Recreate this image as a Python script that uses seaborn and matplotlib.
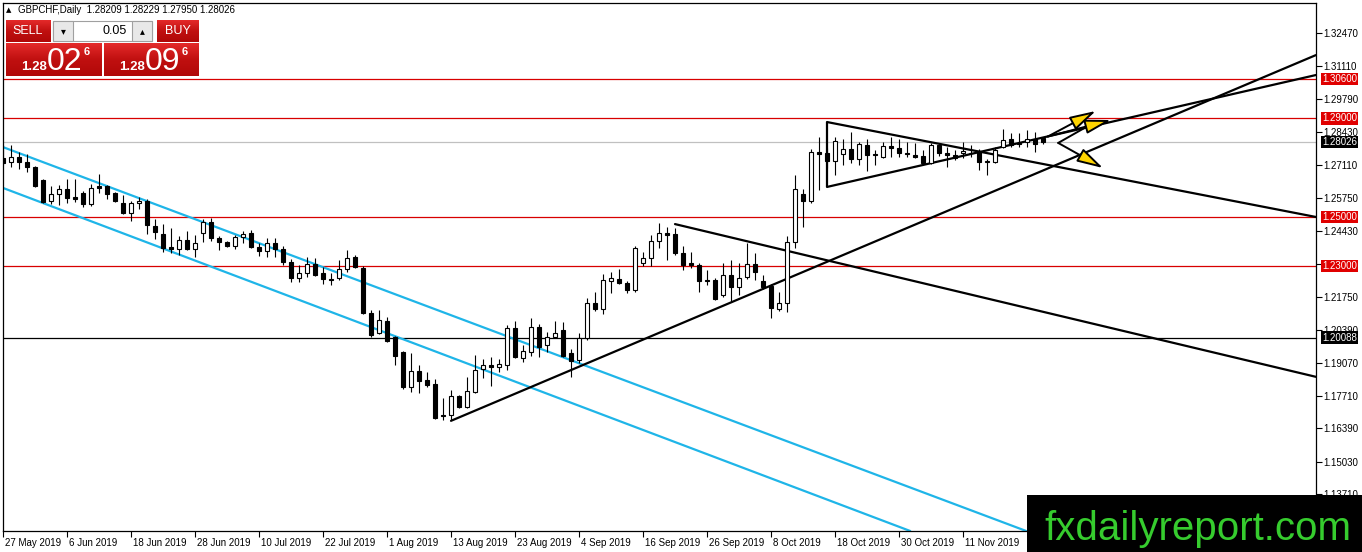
import numpy as np
import pandas as pd
import matplotlib
matplotlib.use("Agg")
import matplotlib.pyplot as plt
import matplotlib.transforms as mtrans
from matplotlib.patches import Rectangle
from matplotlib.colors import LinearSegmentedColormap
import seaborn as sns

sns.set_theme(style="white")
plt.rcParams['font.family'] = ['Liberation Sans', 'DejaVu Sans']

# ---------------- data (GBPCHF daily) ----------------
opens = [
    1.2739, 1.2722, 1.2743, 1.2722, 1.2702, 1.2649, 1.2564, 1.2592, 1.2613, 1.2580,
    1.2597, 1.2552, 1.2625, 1.2625, 1.2597, 1.2556, 1.2515, 1.2556, 1.2564, 1.2462,
    1.2430, 1.2377, 1.2369, 1.2405, 1.2369, 1.2434, 1.2479, 1.2414, 1.2397, 1.2381,
    1.2418, 1.2434, 1.2377, 1.2361, 1.2393, 1.2369, 1.2316, 1.2251, 1.2271, 1.2308,
    1.2271, 1.2247, 1.2251, 1.2288, 1.2336, 1.2292, 1.2109, 1.2027, 1.2076, 1.2011,
    1.1950, 1.1808, 1.1873, 1.1836, 1.1820, 1.1694, 1.1694, 1.1771, 1.1727, 1.1788,
    1.1881, 1.1897, 1.1889, 1.1897, 1.2048, 1.1926, 1.1950, 1.2052, 1.1979, 1.2011,
    1.2040, 1.1946, 1.1918, 1.2007, 1.2149, 1.2125, 1.2239, 1.2247, 1.2231, 1.2202,
    1.2312, 1.2332, 1.2401, 1.2434, 1.2430, 1.2353, 1.2312, 1.2304, 1.2243, 1.2243,
    1.2182, 1.2263, 1.2214, 1.2255, 1.2308, 1.2239, 1.2218, 1.2125, 1.2149, 1.2397,
    1.2592, 1.2564, 1.2763, 1.2759, 1.2727, 1.2755, 1.2775, 1.2735, 1.2792, 1.2755,
    1.2743, 1.2788, 1.2779, 1.2759, 1.2751, 1.2747, 1.2718, 1.2792, 1.2759, 1.2751,
    1.2759, 1.2759, 1.2763, 1.2722, 1.2722, 1.2783, 1.2816, 1.2800, 1.2804, 1.2816,
    1.28209]
highs = [
    1.2792, 1.2792, 1.2763, 1.2755, 1.2706, 1.2653, 1.2625, 1.2629, 1.2653, 1.2653,
    1.2605, 1.2633, 1.2674, 1.2629, 1.2601, 1.2588, 1.2564, 1.2580, 1.2572, 1.2491,
    1.2471, 1.2454, 1.2422, 1.2442, 1.2426, 1.2491, 1.2495, 1.2422, 1.2401, 1.2426,
    1.2442, 1.2446, 1.2393, 1.2414, 1.2414, 1.2381, 1.2328, 1.2304, 1.2336, 1.2332,
    1.2296, 1.2271, 1.2324, 1.2365, 1.2345, 1.2300, 1.2121, 1.2121, 1.2092, 1.2015,
    1.1954, 1.1946, 1.1897, 1.1869, 1.1840, 1.1763, 1.1796, 1.1775, 1.1849, 1.1938,
    1.1922, 1.1930, 1.1922, 1.2060, 1.2076, 1.1979, 1.2088, 1.2064, 1.2031, 1.2076,
    1.2072, 1.1962, 1.2027, 1.2170, 1.2194, 1.2267, 1.2275, 1.2288, 1.2239, 1.2381,
    1.2357, 1.2426, 1.2475, 1.2458, 1.2454, 1.2381, 1.2357, 1.2312, 1.2283, 1.2251,
    1.2312, 1.2324, 1.2312, 1.2393, 1.2353, 1.2263, 1.2227, 1.2194, 1.2421, 1.2670,
    1.2613, 1.2775, 1.2824, 1.2779, 1.2824, 1.2816, 1.2844, 1.2804, 1.2816, 1.2771,
    1.2804, 1.2824, 1.2816, 1.2804, 1.2800, 1.2771, 1.2800, 1.2800, 1.2784, 1.2771,
    1.2804, 1.2792, 1.2775, 1.2735, 1.2783, 1.2857, 1.2840, 1.2840, 1.2853, 1.2844,
    1.28229]
lows = [
    1.2710, 1.2702, 1.2694, 1.2682, 1.2621, 1.2556, 1.2552, 1.2548, 1.2556, 1.2560,
    1.2540, 1.2544, 1.2597, 1.2572, 1.2560, 1.2511, 1.2483, 1.2531, 1.2430, 1.2410,
    1.2357, 1.2353, 1.2345, 1.2365, 1.2336, 1.2397, 1.2401, 1.2365, 1.2377, 1.2369,
    1.2393, 1.2373, 1.2340, 1.2336, 1.2336, 1.2304, 1.2235, 1.2235, 1.2255, 1.2259,
    1.2227, 1.2223, 1.2243, 1.2275, 1.2292, 1.2105, 1.2011, 1.2023, 1.1991, 1.1897,
    1.1800, 1.1788, 1.1784, 1.1808, 1.1678, 1.1674, 1.1674, 1.1723, 1.1723, 1.1784,
    1.1845, 1.1812, 1.1869, 1.1877, 1.1926, 1.1910, 1.1934, 1.1930, 1.1950, 1.2007,
    1.1930, 1.1849, 1.1905, 1.1999, 1.2117, 1.2105, 1.2190, 1.2227, 1.2190, 1.2194,
    1.2300, 1.2300, 1.2373, 1.2324, 1.2345, 1.2283, 1.2292, 1.2194, 1.2223, 1.2162,
    1.2174, 1.2153, 1.2182, 1.2247, 1.2243, 1.2206, 1.2088, 1.2117, 1.2113, 1.2373,
    1.2458, 1.2556, 1.2609, 1.2698, 1.2670, 1.2710, 1.2718, 1.2710, 1.2686, 1.2710,
    1.2739, 1.2743, 1.2743, 1.2743, 1.2739, 1.2710, 1.2714, 1.2747, 1.2702, 1.2731,
    1.2739, 1.2743, 1.2690, 1.2670, 1.2718, 1.2779, 1.2783, 1.2783, 1.2783, 1.2763,
    1.27950]
closes = [
    1.2718, 1.2743, 1.2722, 1.2702, 1.2625, 1.2560, 1.2592, 1.2613, 1.2576, 1.2572,
    1.2552, 1.2617, 1.2617, 1.2592, 1.2564, 1.2515, 1.2556, 1.2564, 1.2466, 1.2438,
    1.2373, 1.2369, 1.2405, 1.2369, 1.2393, 1.2479, 1.2414, 1.2397, 1.2381, 1.2418,
    1.2430, 1.2377, 1.2361, 1.2393, 1.2369, 1.2316, 1.2251, 1.2271, 1.2308, 1.2263,
    1.2247, 1.2243, 1.2288, 1.2332, 1.2296, 1.2109, 1.2019, 1.2080, 1.1995, 1.1934,
    1.1808, 1.1873, 1.1832, 1.1816, 1.1682, 1.1690, 1.1771, 1.1727, 1.1792, 1.1877,
    1.1897, 1.1889, 1.1901, 1.2048, 1.1930, 1.1954, 1.2052, 1.1971, 1.2011, 1.2027,
    1.1934, 1.1914, 1.2007, 1.2149, 1.2125, 1.2243, 1.2251, 1.2231, 1.2202, 1.2373,
    1.2332, 1.2401, 1.2434, 1.2426, 1.2353, 1.2304, 1.2304, 1.2239, 1.2239, 1.2166,
    1.2263, 1.2214, 1.2251, 1.2308, 1.2275, 1.2214, 1.2129, 1.2149, 1.2397, 1.2613,
    1.2564, 1.2763, 1.2755, 1.2727, 1.2808, 1.2775, 1.2735, 1.2796, 1.2751, 1.2751,
    1.2788, 1.2779, 1.2759, 1.2755, 1.2743, 1.2718, 1.2792, 1.2759, 1.2751, 1.2739,
    1.2767, 1.2761, 1.2722, 1.2727, 1.2771, 1.2812, 1.2792, 1.2796, 1.2816, 1.2796,
    1.28026]

date_tick_bars = [0, 8, 16, 24, 32, 40, 48, 56, 64, 72, 80, 88, 96, 104, 112, 120]
date_labels = ["27 May 2019", "6 Jun 2019", "18 Jun 2019", "28 Jun 2019",
               "10 Jul 2019", "22 Jul 2019", "1 Aug 2019", "13 Aug 2019",
               "23 Aug 2019", "4 Sep 2019", "16 Sep 2019", "26 Sep 2019",
               "8 Oct 2019", "18 Oct 2019", "30 Oct 2019", "11 Nov 2019"]
price_ticks = [1.32470, 1.31110, 1.29790, 1.28430, 1.27110, 1.25750, 1.24430,
               1.23070, 1.21750, 1.20390, 1.19070, 1.17710, 1.16390, 1.15030, 1.13710]

red_levels = [1.30600, 1.29000, 1.25000, 1.23000]
black_level = 1.20088
bid_price = 1.28026

# drawn trend lines: (bar index, price) anchor points
channel_top_x, channel_top_y = [0.0, 127.9], [1.2783, 1.1222]
channel_bot_x, channel_bot_y = [0.0, 113.4], [1.2617, 1.1222]
aug_support_x, aug_support_y = [56.0, 164.1], [1.1670, 1.3157]
sep_resist_x, sep_resist_y = [84.0, 164.1], [1.2470, 1.1849]
tri_upper_x, tri_upper_y = [103.0, 164.1], [1.2885, 1.2499]
tri_lower_x, tri_lower_y = [103.0, 164.1], [1.2621, 1.3076]

arrow_start = (130.6, 1.2826)
arrow_tips = [(136.6, 1.2930), (138.5, 1.2893)]
zigzag_x = [135.2, 131.9]
zigzag_y = [1.2861, 1.2800]
zigzag_tip = (137.5, 1.2698)

symbol_text = "GBPCHF,Daily  1.28209 1.28229 1.27950 1.28026"

# ---------------- figure ----------------
W, H = 1362, 552
fig = plt.figure(figsize=(W / 100, H / 100), dpi=100)
fig.patch.set_facecolor("white")
ax = fig.add_axes([3 / W, 21 / H, 1313 / W, 528 / H])
ax.set_facecolor("white")
ax.set_xlim(0, 164.125)
ax.set_ylim(1.1222, 1.3369)

df = pd.DataFrame({"o": opens, "h": highs, "l": lows, "c": closes})
df["i"] = np.arange(len(df))
up = df["c"] >= df["o"]

# horizontal levels
for lv in red_levels:
    ax.axhline(lv, color="#D80000", lw=0.9, zorder=1)
ax.axhline(black_level, color="black", lw=0.9, zorder=1)
ax.axhline(bid_price, color="#C0C0C0", lw=0.9, zorder=1)

# trend lines
cyan = "#1FB5E8"
for xs, ys, col in [(channel_top_x, channel_top_y, cyan),
                    (channel_bot_x, channel_bot_y, cyan),
                    (aug_support_x, aug_support_y, "black"),
                    (sep_resist_x, sep_resist_y, "black"),
                    (tri_upper_x, tri_upper_y, "black"),
                    (tri_lower_x, tri_lower_y, "black")]:
    sns.lineplot(x=xs, y=ys, color=col, lw=1.6, ax=ax, estimator=None,
                 sort=False, zorder=2)
ax.vlines(tri_upper_x[0], tri_lower_y[0], tri_upper_y[0], color="black", lw=1.6, zorder=2)

# candles
ax.vlines(df["i"], df["l"], df["h"], color="black", lw=0.8, zorder=3)
ax.bar(df["i"][up], (df["c"] - df["o"])[up], bottom=df["o"][up], width=0.62,
       color="white", edgecolor="black", lw=0.8, zorder=4)
ax.bar(df["i"][~up], (df["o"] - df["c"])[~up], bottom=df["c"][~up], width=0.62,
       color="black", edgecolor="black", lw=0.8, zorder=4)

# arrows
aprops = dict(arrowstyle="-|>,head_length=0.8,head_width=0.22", mutation_scale=20,
              fc="#FFD400", ec="black", lw=1.4, shrinkA=0, shrinkB=0)
for tip in arrow_tips:
    ax.annotate("", xy=tip, xytext=arrow_start, arrowprops=aprops, zorder=6)
ax.plot(zigzag_x, zigzag_y, color="black", lw=1.4, zorder=6)
ax.annotate("", xy=zigzag_tip, xytext=(zigzag_x[-1], zigzag_y[-1]),
            arrowprops=aprops, zorder=6)

# axes styling
for s in ax.spines.values():
    s.set_color("black")
    s.set_linewidth(0.9)
ax.yaxis.tick_right()
ax.set_yticks(price_ticks)
ax.set_yticklabels([f"{v:.5f}" for v in price_ticks])
ax.set_xticks(date_tick_bars)
ax.set_xticklabels(date_labels)
ax.tick_params(axis="y", which="both", right=True, left=False, direction="out",
               length=4, width=0.8, labelsize=7, pad=1.5, colors="black")
ax.tick_params(axis="x", which="both", bottom=True, direction="out",
               length=4, width=0.8, labelsize=7, pad=1, colors="black")
off = mtrans.ScaledTranslation(2 / 100, 0, fig.dpi_scale_trans)
for lbl in ax.get_xticklabels():
    lbl.set_ha("left")
    lbl.set_transform(lbl.get_transform() + off)
ax.set_xlabel("")
ax.set_ylabel("")
ax.grid(False)

# price tags on the right scale
def tag(price, fc):
    ax.annotate(f"{price:.5f}", xy=(1, price), xycoords=("axes fraction", "data"),
                xytext=(4.3, 0), textcoords="offset points", ha="left", va="center",
                fontsize=7, color="white", annotation_clip=False, zorder=10,
                bbox=dict(boxstyle="square,pad=0.12", fc=fc, ec="none"))

for lv in red_levels:
    tag(lv, "#E00000")
tag(bid_price, "black")
tag(black_level, "black")

# ---------------- overlay: trade panel + logo (pixel space) ----------------
ov = fig.add_axes([0, 0, 1, 1], zorder=20)
ov.set_xlim(0, W)
ov.set_ylim(H, 0)
ov.axis("off")
ov.patch.set_alpha(0)

red_grad = LinearSegmentedColormap.from_list("rg", ["#E42A2A", "#C01010", "#B00808"])
grad = np.linspace(0, 1, 64).reshape(-1, 1)

def red_box(x0, y0, w, h):
    ov.imshow(grad, cmap=red_grad, extent=(x0, x0 + w, y0 + h, y0),
              aspect="auto", interpolation="bilinear", zorder=1)

red_box(6, 20, 45, 22)      # SELL
red_box(157, 20, 42, 22)    # BUY
red_box(6, 43, 96, 33)      # bid
red_box(104, 43, 95, 33)    # ask
ov.set_xlim(0, W)
ov.set_ylim(H, 0)
ov.add_patch(Rectangle((53, 21), 99, 20, fc="white", ec="#A0A0A0", lw=0.8, zorder=2))
ov.add_patch(Rectangle((53, 21), 20, 20, fc="#E8E8E8", ec="#A0A0A0", lw=0.8, zorder=3))
ov.add_patch(Rectangle((132, 21), 20, 20, fc="#E8E8E8", ec="#A0A0A0", lw=0.8, zorder=3))

ov.text(28, 31, "SELL", color="white", fontsize=9, ha="center", va="center", zorder=5)
ov.text(178, 31, "BUY", color="white", fontsize=9, ha="center", va="center", zorder=5)
ov.text(127, 31, "0.05", color="black", fontsize=9, ha="right", va="center", zorder=5)
ov.text(63, 31, "▾", color="black", fontsize=7, ha="center", va="center",
        family=["DejaVu Sans"], zorder=5)
ov.text(142, 31, "▴", color="black", fontsize=7, ha="center", va="center",
        family=["DejaVu Sans"], zorder=5)

for x0, big in [(21, "02"), (119, "09")]:
    ov.text(x0, 70, "1.28", color="white", fontsize=9.5, fontweight="bold",
            ha="left", va="baseline", zorder=5)
    ov.text(x0 + 26, 70.5, big, color="white", fontsize=23, ha="left",
            va="baseline", zorder=5)
    ov.text(x0 + 63, 55, "6", color="white", fontsize=8, fontweight="bold",
            ha="left", va="baseline", zorder=5)

ov.text(6, 10, "▲", fontsize=5, color="black", ha="left", va="center",
        family=["DejaVu Sans"], zorder=5)
ov.text(18, 10, symbol_text, fontsize=7, color="black", ha="left", va="center", zorder=5)

# logo
ov.add_patch(Rectangle((1027, 495), W - 1027, H - 495, fc="black", ec="none", zorder=6))
ov.text(1044, 540, "fxdailyreport.com", color="#36CC2E", fontsize=29,
        ha="left", va="baseline", zorder=7)

fig.savefig("out.png", dpi=100)
